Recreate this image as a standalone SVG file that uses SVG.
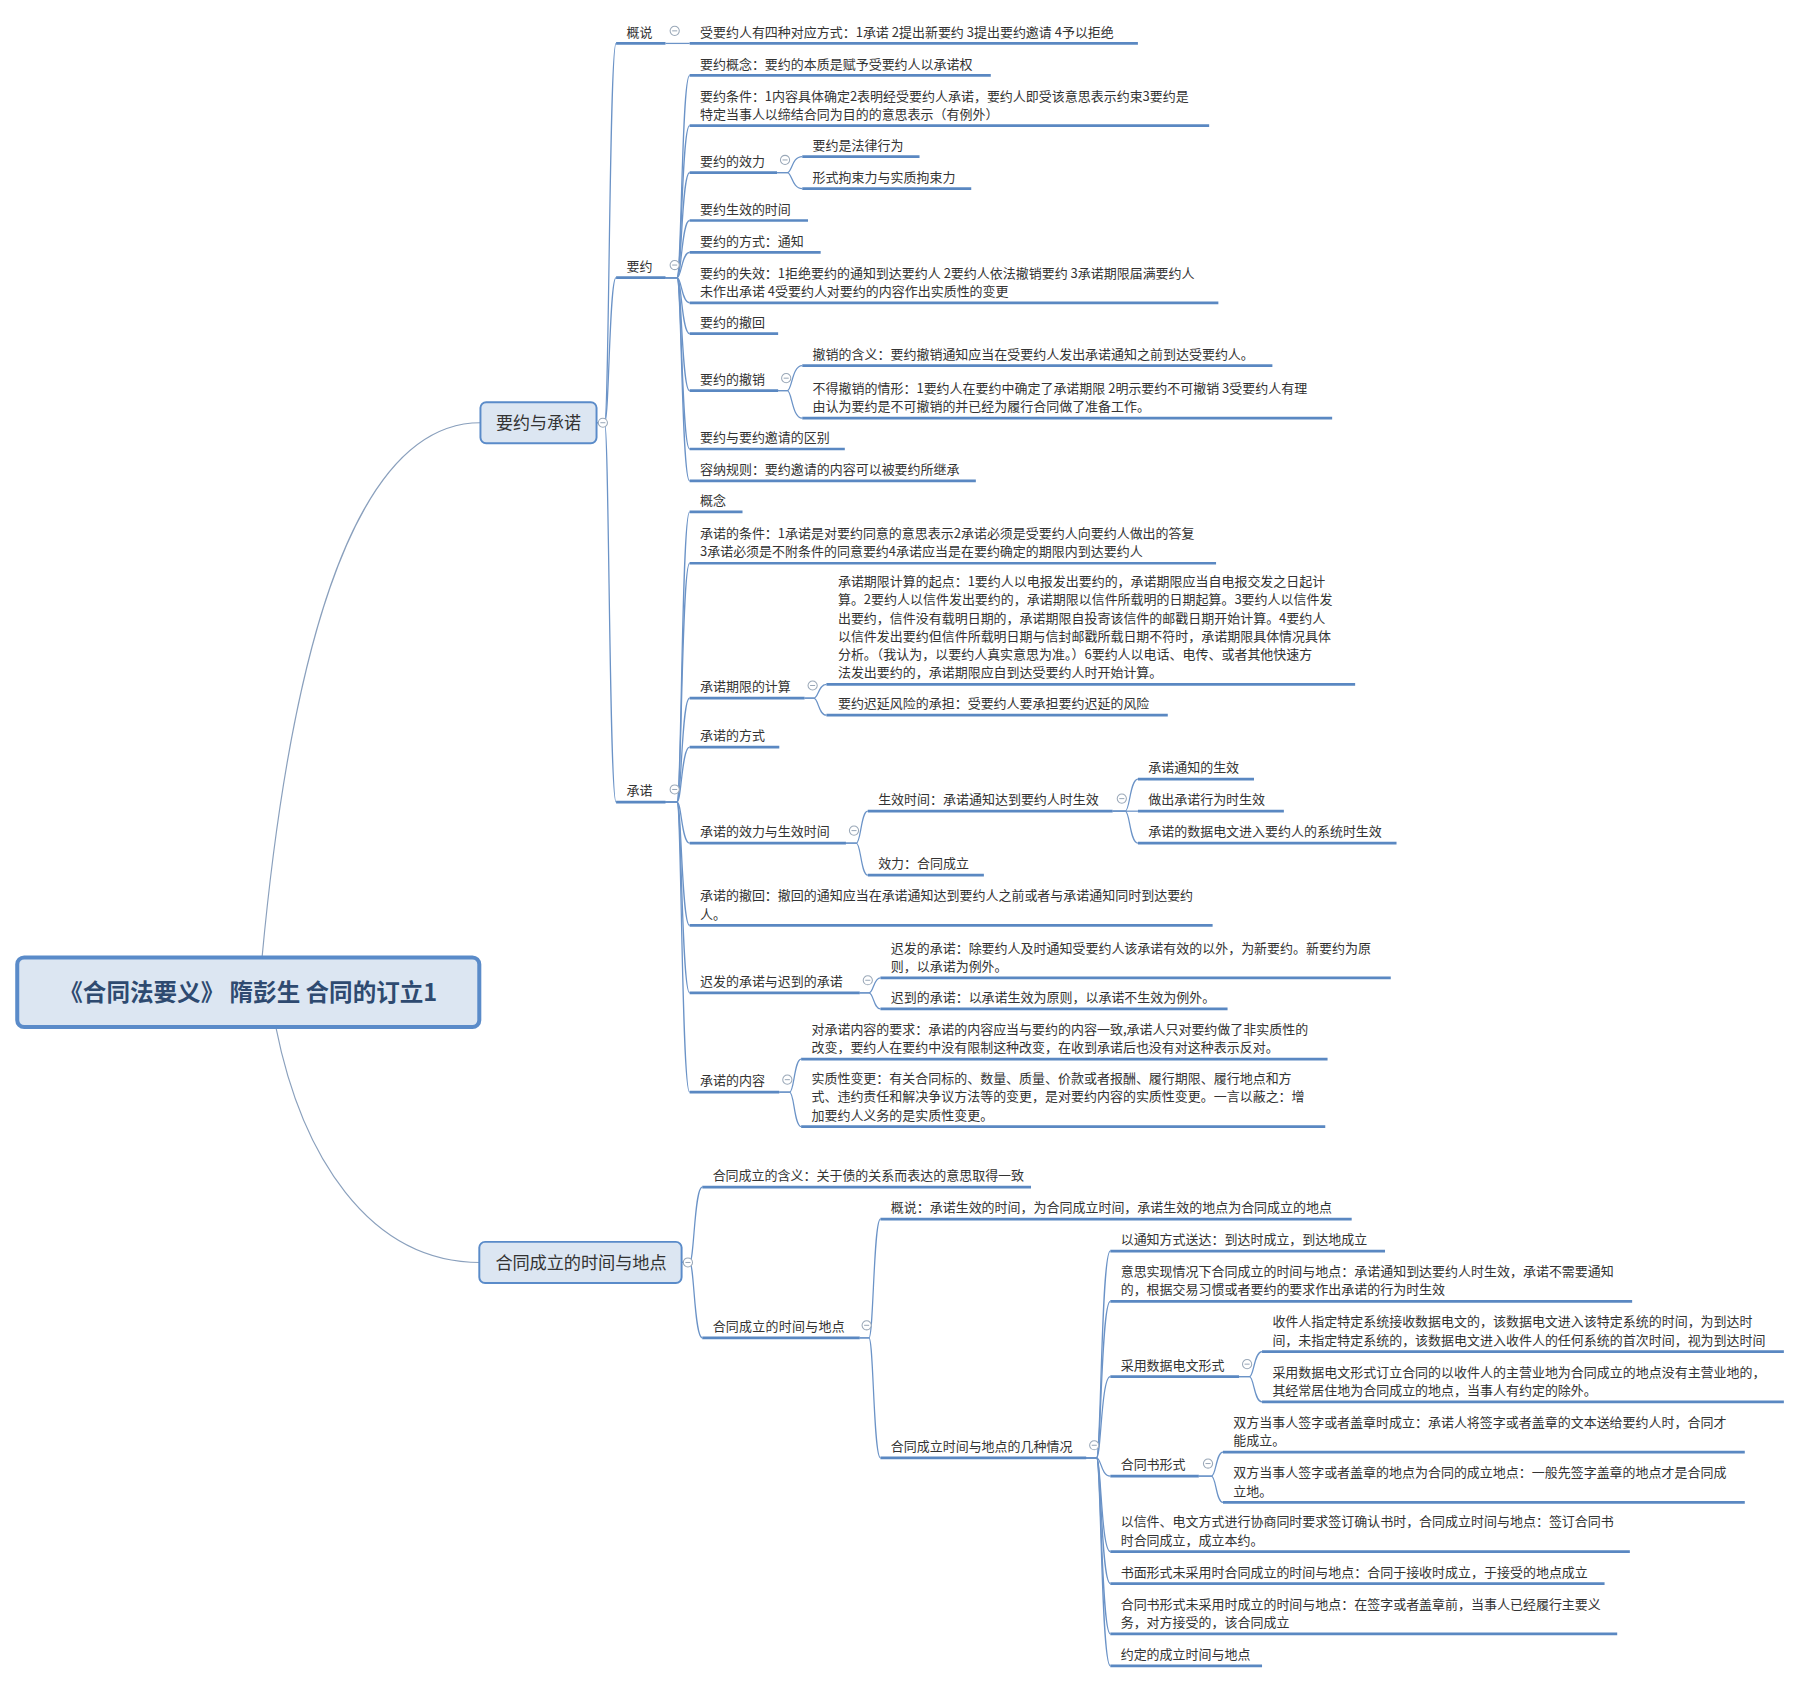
<svg xmlns="http://www.w3.org/2000/svg" xmlns:xlink="http://www.w3.org/1999/xlink" width="1793" height="1684" viewBox="0 0 1793 1684">
<style>
.t{font-family:"Noto Sans CJK SC","Noto Sans",sans-serif;font-size:11.3px;fill:#333;transform:translateX(-2px)}
.u{stroke:#5a88c2;stroke-width:2.4;fill:none}
.c{stroke:#6b93c7;stroke-width:1.1;fill:none}
.r{stroke:#8aa0bd;stroke-width:1;fill:none}
.box{fill:#dce6f2;stroke:#5a8bc9}
.mb circle{fill:#fff;stroke:#9aa8b8;stroke-width:0.9}
.mb line{stroke:#9aa8b8;stroke-width:0.9}
</style>
<defs>
<g id="mb" class="mb"><circle r="4"/><line x1="-2.2" y1="0" x2="2.2" y2="0"/></g>
</defs>
<rect x="0" y="0" width="1793" height="1684" fill="#fff"/>
<g transform="scale(1.1494 1.1425)">
<g id="connectors">
<path class="r" d="M228,838 C250,600 300,370 418,370"/>
<path class="r" d="M240,899 C262,1010 320,1105 418,1105"/>
<path class="c" d="M519,370H526C530,370 530,38 536,38"/>
<path class="c" d="M519,370H526C530,370 530,243 536,243"/>
<path class="c" d="M519,370H526C530,370 530,702 536,702"/>
<path class="c" d="M579,38H600"/>
<path class="c" d="M579,243H589C593,243 593,66 600,66"/>
<path class="c" d="M579,243H589C593,243 593,110 600,110"/>
<path class="c" d="M579,243H589C593,243 593,151 600,151"/>
<path class="c" d="M579,243H589C593,243 593,193 600,193"/>
<path class="c" d="M579,243H589C593,243 593,221 600,221"/>
<path class="c" d="M579,243H589C593,243 593,265 600,265"/>
<path class="c" d="M579,243H589C593,243 593,292 600,292"/>
<path class="c" d="M579,243H589C593,243 593,342 600,342"/>
<path class="c" d="M579,243H589C593,243 593,393 600,393"/>
<path class="c" d="M579,243H589C593,243 593,421 600,421"/>
<path class="c" d="M676,151H685C689,151 689,137 698,137"/>
<path class="c" d="M676,151H685C689,151 689,165 698,165"/>
<path class="c" d="M677,342H685C689,342 689,320 698,320"/>
<path class="c" d="M677,342H685C689,342 689,366 698,366"/>
<path class="c" d="M579,702H589C593,702 593,448 600,448"/>
<path class="c" d="M579,702H589C593,702 593,493 600,493"/>
<path class="c" d="M579,702H589C593,702 593,611 600,611"/>
<path class="c" d="M579,702H589C593,702 593,654 600,654"/>
<path class="c" d="M579,702H589C593,702 593,738 600,738"/>
<path class="c" d="M579,702H589C593,702 593,810 600,810"/>
<path class="c" d="M579,702H589C593,702 593,869 600,869"/>
<path class="c" d="M579,702H589C593,702 593,956 600,956"/>
<path class="c" d="M700,611H708C712,611 712,599 719,599"/>
<path class="c" d="M700,611H708C712,611 712,626 719,626"/>
<path class="c" d="M736,738H745C749,738 749,710 755,710"/>
<path class="c" d="M736,738H745C749,738 749,766 755,766"/>
<path class="c" d="M968,710H979C983,710 983,682 990,682"/>
<path class="c" d="M968,710H990"/>
<path class="c" d="M968,710H979C983,710 983,738 990,738"/>
<path class="c" d="M748,869H756C760,869 760,856 766,856"/>
<path class="c" d="M748,869H756C760,869 760,883 766,883"/>
<path class="c" d="M678,956H687C691,956 691,927 697,927"/>
<path class="c" d="M678,956H687C691,956 691,986 697,986"/>
<path class="c" d="M593,1105H600C604,1105 604,1039 611,1039"/>
<path class="c" d="M593,1105H600C604,1105 604,1171 611,1171"/>
<path class="c" d="M748,1171H756C760,1171 760,1067 766,1067"/>
<path class="c" d="M748,1171H756C760,1171 760,1276 766,1276"/>
<path class="c" d="M945,1276H954C958,1276 958,1095 966,1095"/>
<path class="c" d="M945,1276H954C958,1276 958,1139 966,1139"/>
<path class="c" d="M945,1276H954C958,1276 958,1205 966,1205"/>
<path class="c" d="M945,1276H954C958,1276 958,1292 966,1292"/>
<path class="c" d="M945,1276H954C958,1276 958,1358 966,1358"/>
<path class="c" d="M945,1276H954C958,1276 958,1386 966,1386"/>
<path class="c" d="M945,1276H954C958,1276 958,1430 966,1430"/>
<path class="c" d="M945,1276H954C958,1276 958,1458 966,1458"/>
<path class="c" d="M1078,1205H1087C1091,1205 1091,1183 1098,1183"/>
<path class="c" d="M1078,1205H1087C1091,1205 1091,1227 1098,1227"/>
<path class="c" d="M1043,1292H1054C1058,1292 1058,1271 1064,1271"/>
<path class="c" d="M1043,1292H1054C1058,1292 1058,1315 1064,1315"/>
</g>

<g id="root">
<rect class="box" x="15" y="838" width="402" height="61" rx="6" stroke-width="3.5"/>
<text x="216" y="876.5" text-anchor="middle" style="font-family:'Noto Sans CJK SC','Noto Sans',sans-serif;font-size:20.5px;font-weight:bold;fill:#2e4a70">《合同法要义》 隋彭生 合同的订立1</text>
</g>

<g id="n-yaoyue-chengnuo">
<rect class="box" x="418" y="352" width="101" height="36" rx="5" stroke-width="1.7"/>
<text x="468.5" y="375.5" text-anchor="middle" style="font-family:'Noto Sans CJK SC','Noto Sans',sans-serif;font-size:14.8px;fill:#333">要约与承诺</text>
<use xlink:href="#mb" x="524.5" y="370"/>
</g>

<g id="n-gaishuo">
<line class="u" x1="536" y1="38" x2="579" y2="38"/>
<text class="t" x="547" y="32">概说</text>
<use xlink:href="#mb" x="587" y="27"/>
</g>
<g id="n-gaishuo-1">
<line class="u" x1="600" y1="38" x2="990" y2="38"/>
<text class="t" x="611" y="32">受要约人有四种对应方式：1承诺 2提出新要约 3提出要约邀请 4予以拒绝</text>
</g>

<g id="n-yaoyue">
<line class="u" x1="536" y1="243" x2="579" y2="243"/>
<text class="t" x="547" y="237">要约</text>
<use xlink:href="#mb" x="587" y="232"/>
</g>
<g id="n-yy1">
<line class="u" x1="600" y1="66" x2="862" y2="66"/>
<text class="t" x="611" y="60">要约概念：要约的本质是赋予受要约人以承诺权</text>
</g>
<g id="n-yy2">
<line class="u" x1="600" y1="110" x2="1052" y2="110"/>
<text class="t" x="611" y="88">要约条件：1内容具体确定2表明经受要约人承诺，要约人即受该意思表示约束3要约是<tspan x="611" dy="16">特定当事人以缔结合同为目的的意思表示（有例外）</tspan></text>
</g>
<g id="n-yy3">
<line class="u" x1="600" y1="151" x2="676" y2="151"/>
<text class="t" x="611" y="145">要约的效力</text>
<use xlink:href="#mb" x="683" y="140"/>
</g>
<g id="n-yy3a">
<line class="u" x1="698" y1="137" x2="800" y2="137"/>
<text class="t" x="709" y="131">要约是法律行为</text>
</g>
<g id="n-yy3b">
<line class="u" x1="698" y1="165" x2="845" y2="165"/>
<text class="t" x="709" y="159">形式拘束力与实质拘束力</text>
</g>
<g id="n-yy4">
<line class="u" x1="600" y1="193" x2="703" y2="193"/>
<text class="t" x="611" y="187">要约生效的时间</text>
</g>
<g id="n-yy5">
<line class="u" x1="600" y1="221" x2="714" y2="221"/>
<text class="t" x="611" y="215">要约的方式：通知</text>
</g>
<g id="n-yy6">
<line class="u" x1="600" y1="265" x2="1060" y2="265"/>
<text class="t" x="611" y="243">要约的失效：1拒绝要约的通知到达要约人 2要约人依法撤销要约 3承诺期限届满要约人<tspan x="611" dy="16">未作出承诺 4受要约人对要约的内容作出实质性的变更</tspan></text>
</g>
<g id="n-yy7">
<line class="u" x1="600" y1="292" x2="677" y2="292"/>
<text class="t" x="611" y="286">要约的撤回</text>
</g>
<g id="n-yy8">
<line class="u" x1="600" y1="342" x2="677" y2="342"/>
<text class="t" x="611" y="336">要约的撤销</text>
<use xlink:href="#mb" x="684" y="331"/>
</g>
<g id="n-yy8a">
<line class="u" x1="698" y1="320" x2="1107" y2="320"/>
<text class="t" x="709" y="314">撤销的含义：要约撤销通知应当在受要约人发出承诺通知之前到达受要约人。</text>
</g>
<g id="n-yy8b">
<line class="u" x1="698" y1="366" x2="1159" y2="366"/>
<text class="t" x="709" y="344">不得撤销的情形：1要约人在要约中确定了承诺期限 2明示要约不可撤销 3受要约人有理<tspan x="709" dy="16">由认为要约是不可撤销的并已经为履行合同做了准备工作。</tspan></text>
</g>
<g id="n-yy9">
<line class="u" x1="600" y1="393" x2="735" y2="393"/>
<text class="t" x="611" y="387">要约与要约邀请的区别</text>
</g>
<g id="n-yy10">
<line class="u" x1="600" y1="421" x2="849" y2="421"/>
<text class="t" x="611" y="415">容纳规则：要约邀请的内容可以被要约所继承</text>
</g>

<g id="n-chengnuo">
<line class="u" x1="536" y1="702" x2="579" y2="702"/>
<text class="t" x="547" y="696">承诺</text>
<use xlink:href="#mb" x="587" y="691"/>
</g>
<g id="n-cn1">
<line class="u" x1="600" y1="448" x2="646" y2="448"/>
<text class="t" x="611" y="442">概念</text>
</g>
<g id="n-cn2">
<line class="u" x1="600" y1="493" x2="1058" y2="493"/>
<text class="t" x="611" y="471">承诺的条件：1承诺是对要约同意的意思表示2承诺必须是受要约人向要约人做出的答复<tspan x="611" dy="16">3承诺必须是不附条件的同意要约4承诺应当是在要约确定的期限内到达要约人</tspan></text>
</g>
<g id="n-cn3">
<line class="u" x1="600" y1="611" x2="700" y2="611"/>
<text class="t" x="611" y="605">承诺期限的计算</text>
<use xlink:href="#mb" x="707" y="600"/>
</g>
<g id="n-cn3a">
<line class="u" x1="719" y1="599" x2="1179" y2="599"/>
<text class="t" x="731" y="513">承诺期限计算的起点：1要约人以电报发出要约的，承诺期限应当自电报交发之日起计<tspan x="731" dy="16">算。2要约人以信件发出要约的，承诺期限以信件所载明的日期起算。3要约人以信件发</tspan><tspan x="731" dy="16">出要约，信件没有载明日期的，承诺期限自投寄该信件的邮戳日期开始计算。4要约人</tspan><tspan x="731" dy="16">以信件发出要约但信件所载明日期与信封邮戳所载日期不符时，承诺期限具体情况具体</tspan><tspan x="731" dy="16">分析。（我认为，以要约人真实意思为准。）6要约人以电话、电传、或者其他快速方</tspan><tspan x="731" dy="16">法发出要约的，承诺期限应自到达受要约人时开始计算。</tspan></text>
</g>
<g id="n-cn3b">
<line class="u" x1="719" y1="626" x2="1016" y2="626"/>
<text class="t" x="731" y="620">要约迟延风险的承担：受要约人要承担要约迟延的风险</text>
</g>
<g id="n-cn4">
<line class="u" x1="600" y1="654" x2="678" y2="654"/>
<text class="t" x="611" y="648">承诺的方式</text>
</g>
<g id="n-cn5">
<line class="u" x1="600" y1="738" x2="736" y2="738"/>
<text class="t" x="611" y="732">承诺的效力与生效时间</text>
<use xlink:href="#mb" x="743" y="727"/>
</g>
<g id="n-cn5a">
<line class="u" x1="755" y1="710" x2="968" y2="710"/>
<text class="t" x="766" y="704">生效时间：承诺通知达到要约人时生效</text>
<use xlink:href="#mb" x="976" y="699"/>
</g>
<g id="n-cn5a1">
<line class="u" x1="990" y1="682" x2="1091" y2="682"/>
<text class="t" x="1001" y="676">承诺通知的生效</text>
</g>
<g id="n-cn5a2">
<line class="u" x1="990" y1="710" x2="1117" y2="710"/>
<text class="t" x="1001" y="704">做出承诺行为时生效</text>
</g>
<g id="n-cn5a3">
<line class="u" x1="990" y1="738" x2="1215" y2="738"/>
<text class="t" x="1001" y="732">承诺的数据电文进入要约人的系统时生效</text>
</g>
<g id="n-cn5b">
<line class="u" x1="755" y1="766" x2="856" y2="766"/>
<text class="t" x="766" y="760">效力：合同成立</text>
</g>
<g id="n-cn6">
<line class="u" x1="600" y1="810" x2="1055" y2="810"/>
<text class="t" x="611" y="788">承诺的撤回：撤回的通知应当在承诺通知达到要约人之前或者与承诺通知同时到达要约<tspan x="611" dy="16">人。</tspan></text>
</g>
<g id="n-cn7">
<line class="u" x1="600" y1="869" x2="748" y2="869"/>
<text class="t" x="611" y="863">迟发的承诺与迟到的承诺</text>
<use xlink:href="#mb" x="755" y="858"/>
</g>
<g id="n-cn7a">
<line class="u" x1="766" y1="856" x2="1210" y2="856"/>
<text class="t" x="777" y="834">迟发的承诺：除要约人及时通知受要约人该承诺有效的以外，为新要约。新要约为原<tspan x="777" dy="16">则，以承诺为例外。</tspan></text>
</g>
<g id="n-cn7b">
<line class="u" x1="766" y1="883" x2="1068" y2="883"/>
<text class="t" x="777" y="877">迟到的承诺：以承诺生效为原则，以承诺不生效为例外。</text>
</g>
<g id="n-cn8">
<line class="u" x1="600" y1="956" x2="678" y2="956"/>
<text class="t" x="611" y="950">承诺的内容</text>
<use xlink:href="#mb" x="685" y="945"/>
</g>
<g id="n-cn8a">
<line class="u" x1="697" y1="927" x2="1155" y2="927"/>
<text class="t" x="708" y="905">对承诺内容的要求：承诺的内容应当与要约的内容一致,承诺人只对要约做了非实质性的<tspan x="708" dy="16">改变，要约人在要约中没有限制这种改变，在收到承诺后也没有对这种表示反对。</tspan></text>
</g>
<g id="n-cn8b">
<line class="u" x1="697" y1="986" x2="1153" y2="986"/>
<text class="t" x="708" y="948">实质性变更：有关合同标的、数量、质量、价款或者报酬、履行期限、履行地点和方<tspan x="708" dy="16">式、违约责任和解决争议方法等的变更，是对要约内容的实质性变更。一言以蔽之：增</tspan><tspan x="708" dy="16">加要约人义务的是实质性变更。</tspan></text>
</g>

<g id="n-hetong">
<rect class="box" x="417" y="1087" width="176" height="36" rx="5" stroke-width="1.7"/>
<text x="431" y="1110.5" textLength="149" lengthAdjust="spacing" style="font-family:'Noto Sans CJK SC','Noto Sans',sans-serif;font-size:15px;fill:#333">合同成立的时间与地点</text>
<use xlink:href="#mb" x="598.5" y="1105"/>
</g>
<g id="n-ht1">
<line class="u" x1="611" y1="1039" x2="897" y2="1039"/>
<text class="t" x="622" y="1033">合同成立的含义：关于债的关系而表达的意思取得一致</text>
</g>
<g id="n-ht2">
<line class="u" x1="611" y1="1171" x2="748" y2="1171"/>
<text class="t" x="622" y="1165" textLength="115" lengthAdjust="spacing">合同成立的时间与地点</text>
<use xlink:href="#mb" x="754" y="1160"/>
</g>
<g id="n-ht2a">
<line class="u" x1="766" y1="1067" x2="1176" y2="1067"/>
<text class="t" x="777" y="1061">概说：承诺生效的时间，为合同成立时间，承诺生效的地点为合同成立的地点</text>
</g>
<g id="n-ht2b">
<line class="u" x1="766" y1="1276" x2="945" y2="1276"/>
<text class="t" x="777" y="1270">合同成立时间与地点的几种情况</text>
<use xlink:href="#mb" x="952" y="1265"/>
</g>
<g id="n-s1">
<line class="u" x1="966" y1="1095" x2="1205" y2="1095"/>
<text class="t" x="977" y="1089">以通知方式送达：到达时成立，到达地成立</text>
</g>
<g id="n-s2">
<line class="u" x1="966" y1="1139" x2="1420" y2="1139"/>
<text class="t" x="977" y="1117">意思实现情况下合同成立的时间与地点：承诺通知到达要约人时生效，承诺不需要通知<tspan x="977" dy="16">的，根据交易习惯或者要约的要求作出承诺的行为时生效</tspan></text>
</g>
<g id="n-s3">
<line class="u" x1="966" y1="1205" x2="1078" y2="1205"/>
<text class="t" x="977" y="1199">采用数据电文形式</text>
<use xlink:href="#mb" x="1085" y="1194"/>
</g>
<g id="n-s3a">
<line class="u" x1="1098" y1="1183" x2="1552" y2="1183"/>
<text class="t" x="1109" y="1161">收件人指定特定系统接收数据电文的，该数据电文进入该特定系统的时间，为到达时<tspan x="1109" dy="16">间，未指定特定系统的，该数据电文进入收件人的任何系统的首次时间，视为到达时间</tspan></text>
</g>
<g id="n-s3b">
<line class="u" x1="1098" y1="1227" x2="1552" y2="1227"/>
<text class="t" x="1109" y="1205">采用数据电文形式订立合同的以收件人的主营业地为合同成立的地点没有主营业地的，<tspan x="1109" dy="16">其经常居住地为合同成立的地点，当事人有约定的除外。</tspan></text>
</g>
<g id="n-s4">
<line class="u" x1="966" y1="1292" x2="1043" y2="1292"/>
<text class="t" x="977" y="1286">合同书形式</text>
<use xlink:href="#mb" x="1051" y="1281"/>
</g>
<g id="n-s4a">
<line class="u" x1="1064" y1="1271" x2="1518" y2="1271"/>
<text class="t" x="1075" y="1249">双方当事人签字或者盖章时成立：承诺人将签字或者盖章的文本送给要约人时，合同才<tspan x="1075" dy="16">能成立。</tspan></text>
</g>
<g id="n-s4b">
<line class="u" x1="1064" y1="1315" x2="1518" y2="1315"/>
<text class="t" x="1075" y="1293">双方当事人签字或者盖章的地点为合同的成立地点：一般先签字盖章的地点才是合同成<tspan x="1075" dy="16">立地。</tspan></text>
</g>
<g id="n-s5">
<line class="u" x1="966" y1="1358" x2="1418" y2="1358"/>
<text class="t" x="977" y="1336">以信件、电文方式进行协商同时要求签订确认书时，合同成立时间与地点：签订合同书<tspan x="977" dy="16">时合同成立，成立本约。</tspan></text>
</g>
<g id="n-s6">
<line class="u" x1="966" y1="1386" x2="1396" y2="1386"/>
<text class="t" x="977" y="1380">书面形式未采用时合同成立的时间与地点：合同于接收时成立，于接受的地点成立</text>
</g>
<g id="n-s7">
<line class="u" x1="966" y1="1430" x2="1407" y2="1430"/>
<text class="t" x="977" y="1408">合同书形式未采用时成立的时间与地点：在签字或者盖章前，当事人已经履行主要义<tspan x="977" dy="16">务，对方接受的，该合同成立</tspan></text>
</g>
<g id="n-s8">
<line class="u" x1="966" y1="1458" x2="1098" y2="1458"/>
<text class="t" x="977" y="1452">约定的成立时间与地点</text>
</g>
</g>
</svg>
